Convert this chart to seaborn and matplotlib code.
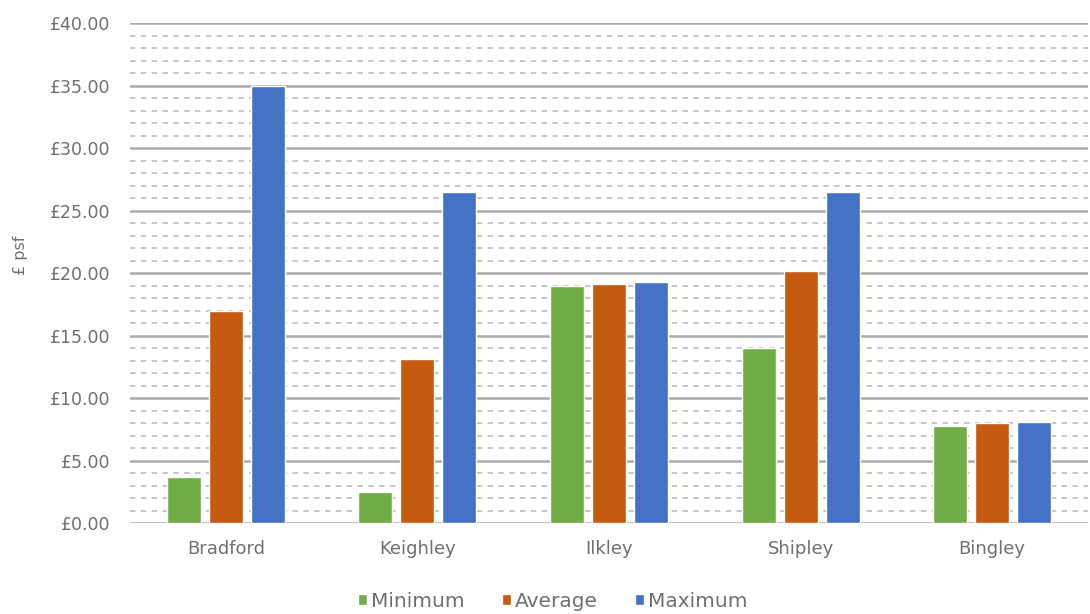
import numpy as np
import pandas as pd
import matplotlib
matplotlib.use("Agg")
import matplotlib.pyplot as plt
import seaborn as sns
from matplotlib.ticker import MultipleLocator, FuncFormatter

# Rent levels (£ per sq ft) by town
towns = ["Bradford", "Keighley", "Ilkley", "Shipley", "Bingley"]
minimum = [3.7, 2.5, 19.0, 14.0, 7.8]
average = [17.0, 13.1, 19.1, 20.2, 8.0]
maximum = [35.0, 26.5, 19.3, 26.5, 8.1]
series_names = ["Minimum", "Average", "Maximum"]
colors = ["#70AD47", "#C55A11", "#4472C4"]

df = pd.DataFrame({
    "Town": towns * 3,
    "Series": np.repeat(series_names, len(towns)),
    "Value": minimum + average + maximum,
})

sns.set_theme(style="white")
plt.rcParams["font.family"] = ["DejaVu Sans"]
text_color = "#707070"

fig = plt.figure(figsize=(10.9, 6.14), dpi=100)
ax = fig.add_axes([0.1193, 0.1482, 0.8789, 0.8143])

sns.barplot(data=df, x="Town", y="Value", hue="Series", order=towns,
            hue_order=series_names, palette=colors, width=0.657, gap=0.19,
            saturation=1, ax=ax, legend=True, zorder=3)

ax.set_ylim(0, 40)
ax.set_xlim(-0.5, len(towns) - 0.5)
ax.yaxis.set_major_locator(MultipleLocator(5))
ax.yaxis.set_minor_locator(MultipleLocator(1))
ax.yaxis.set_major_formatter(FuncFormatter(lambda v, p: f"£{v:.2f}"))

ax.grid(which="major", axis="y", color="#ababab", linewidth=1.8, linestyle="-", zorder=0)
ax.grid(which="minor", axis="y", color="#c2c2c2", linewidth=1.3,
        linestyle=(0, (3, 3)), zorder=0)
ax.grid(which="both", axis="x", visible=False)
ax.set_axisbelow(True)

for s in ["top", "right", "left", "bottom"]:
    ax.spines[s].set_visible(False)

ax.tick_params(axis="y", which="both", length=0, pad=14, labelsize=12.5, labelcolor=text_color)
ax.tick_params(axis="x", length=0, pad=12, labelsize=13, labelcolor=text_color)
ax.set_xlabel("")
ax.set_ylabel("£ psf", fontsize=11.5, color=text_color)
ax.yaxis.set_label_coords(-0.1065, 0.536)

handles, labels = ax.get_legend_handles_labels()
ax.get_legend().remove()
fig.legend(handles, labels, loc="center", bbox_to_anchor=(0.507, 0.021),
           ncol=3, frameon=False, fontsize=14.5, labelcolor=text_color,
           handlelength=0.45, handleheight=0.45, handletextpad=0.2, columnspacing=1.85)

fig.savefig("out.png", dpi=100)
